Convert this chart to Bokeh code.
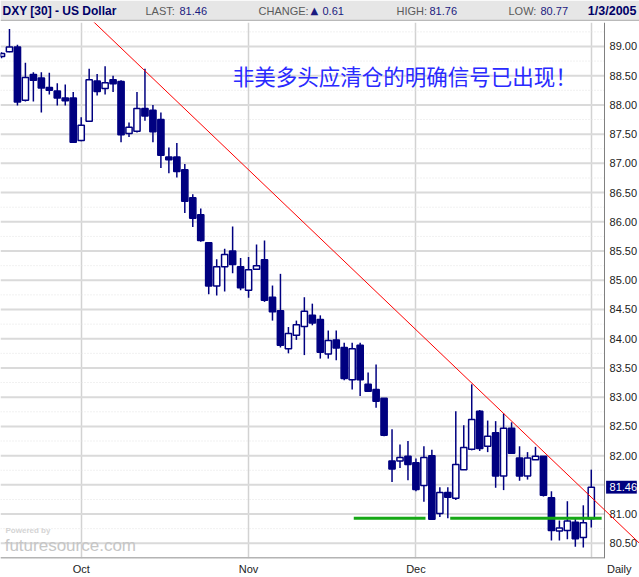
from bokeh.plotting import figure
from bokeh.models import FixedTicker, Label, ColumnDataSource, Range1d
from bokeh.layouts import column
from bokeh.core.properties import value
from bokeh.embed import file_html
from bokeh.resources import INLINE

# ---------------- data ----------------
opens = [88.83, 88.91, 88.99, 88.08, 88.52, 88.46, 88.30, 88.24, 88.12, 88.12,
         87.39, 87.72, 88.41, 88.28, 88.43, 88.40, 87.51, 87.55, 87.94, 87.91,
         87.75, 87.11, 87.11, 86.89, 86.41, 86.12, 85.64, 84.90, 85.23, 85.50,
         85.23, 84.83, 85.19, 85.35, 84.71, 84.48, 83.83, 84.06, 84.21, 84.40,
         84.33, 83.74, 83.98, 83.85, 83.30, 83.89, 83.22, 83.13, 82.98, 81.91,
         81.91, 81.99, 81.88, 81.49, 82.00, 81.01, 81.37, 81.27, 81.76, 82.11,
         82.76, 82.16, 82.39, 81.65, 82.47, 81.96, 81.65, 81.93, 81.99, 81.28,
         80.71, 80.72, 80.86, 80.60, 80.92]
highs = [88.90, 89.30, 89.03, 88.72, 88.56, 88.56, 88.55, 88.37, 88.35, 88.22,
         87.79, 88.62, 88.53, 88.66, 88.50, 88.42, 87.70, 88.22, 88.62, 88.00,
         87.87, 87.27, 87.35, 86.99, 86.47, 86.23, 85.65, 85.36, 85.54, 85.92,
         85.38, 85.40, 85.61, 85.68, 84.91, 85.11, 84.20, 84.31, 84.71, 84.60,
         84.40, 84.14, 84.14, 83.93, 83.93, 83.93, 83.42, 83.56, 82.98, 82.45,
         82.19, 82.25, 81.95, 82.16, 82.10, 81.46, 81.46, 82.76, 82.52, 83.22,
         82.78, 82.60, 82.59, 82.72, 82.57, 82.16, 82.06, 82.15, 81.99, 81.39,
         80.89, 81.22, 80.93, 81.15, 81.76]
lows = [88.80, 88.90, 87.99, 88.06, 88.06, 87.87, 88.18, 87.99, 87.99, 87.35,
        87.38, 87.71, 88.16, 88.18, 88.22, 87.36, 87.45, 87.53, 87.73, 87.36,
        86.92, 86.83, 86.76, 86.15, 85.91, 85.66, 84.76, 84.74, 84.81, 85.12,
        84.83, 84.70, 85.19, 84.63, 84.31, 83.85, 83.75, 83.98, 83.72, 84.23,
        83.66, 83.66, 83.63, 83.29, 83.13, 83.02, 83.09, 82.82, 82.33, 81.55,
        81.79, 81.58, 81.39, 81.21, 80.91, 80.95, 80.93, 81.24, 81.76, 82.09,
        82.08, 82.06, 81.45, 81.41, 82.04, 81.57, 81.59, 81.93, 81.30, 80.55,
        80.55, 80.57, 80.44, 80.43, 80.77]
closes = [88.88, 88.99, 88.05, 88.47, 88.42, 88.29, 88.25, 88.12, 88.07, 87.36,
          87.65, 88.43, 88.23, 88.38, 88.36, 87.49, 87.62, 87.94, 87.81, 87.54,
          87.14, 87.06, 86.86, 86.35, 86.06, 85.68, 84.90, 85.23, 85.44, 85.27,
          84.87, 85.18, 85.25, 84.66, 84.46, 83.89, 84.09, 84.24, 84.47, 84.27,
          83.77, 83.97, 83.84, 83.32, 83.83, 83.30, 83.10, 82.93, 82.35, 81.77,
          81.97, 81.85, 81.42, 81.97, 80.91, 81.37, 81.29, 81.85, 82.14, 82.62,
          82.12, 82.33, 81.65, 82.47, 82.04, 81.65, 81.96, 81.99, 81.32, 80.72,
          80.76, 80.88, 80.58, 80.85, 81.46]

month_idx = [10, 31, 52]
month_labels = ["Oct", "Nov", "Dec"]
jan_idx = 74
period_label = "Daily"
price_ticks = [80.5 + 0.5 * k for k in range(18)]
minor_ticks = [80.25 + 0.5 * k for k in range(19)]

trend_x = [11.42, 80.05]
trend_y = [89.44, 80.50]
support_level = 80.93
support_x0 = [44.2, 56.3]
support_x1 = [53.2, 75.3]

title_text = "DXY [30] - US Dollar"
date_text = "1/3/2005"
note_text = "非美多头应清仓的明确信号已出现！"

NAVY = "#000080"
W = 639

# x geometry (index units): frame covers the right price scale too
X0, X1 = -0.125, 80.05
AXIS_X = 75.66          # where the price scale line sits
Y0, Y1 = 80.24, 89.41

# ---------------- header ----------------
header = figure(width=W, height=21, x_range=Range1d(0, W), y_range=Range1d(0, 21),
                output_backend="svg", toolbar_location=None, min_border=0)
header.axis.visible = False
header.grid.visible = False
header.outline_line_color = None
header.background_fill_color = "white"
header.border_fill_color = "white"
header.quad(left=[0], right=[W], bottom=[1.5], top=[21], fill_color="#e6e6e6", line_color=None)
header.segment(x0=[0], y0=[1.2], x1=[W], y1=[1.2], line_color="#a8a8a8", line_width=1)

last = closes[-1]
change = closes[-1] - closes[-2]
hi = highs[-1]
lo = lows[-1]

header.text(x=[2], y=[11], text=[title_text], text_font=value("Liberation Sans"),
            text_font_style="bold", text_font_size="12px", text_color="#000066",
            text_baseline="middle", text_align="left")
header.text(x=[636], y=[11], text=[date_text], text_font=value("Liberation Sans"),
            text_font_style="bold", text_font_size="12.5px", text_color="#000066",
            text_baseline="middle", text_align="right")

lab_x = [145, 258, 396, 508]
lab_t = ["LAST:", "CHANGE:", "HIGH:", "LOW:"]
val_x = [179, 322, 429, 540]
val_t = ["%.2f" % last, "%.2f" % change, "%.2f" % hi, "%.2f" % lo]
header.text(x=lab_x, y=[11] * 4, text=lab_t, text_font=value("Liberation Sans"),
            text_font_size="11px", text_color="#5a5a5a", text_baseline="middle")
header.text(x=val_x, y=[11] * 4, text=val_t, text_font=value("Liberation Sans"),
            text_font_size="11px", text_color="#1a1a80", text_baseline="middle")
header.text(x=[310], y=[11], text=["▲"], text_font=value("DejaVu Sans"),
            text_font_size="10px", text_color="#1a1a80", text_baseline="middle")

# ---------------- main chart ----------------
p = figure(width=W, height=556, x_range=Range1d(X0, X1), y_range=Range1d(Y0, Y1),
           y_axis_location=None, output_backend="svg", toolbar_location=None,
           min_border_left=0, min_border_right=0, min_border_top=1, min_border_bottom=19)
p.outline_line_color = None
p.background_fill_color = "white"
p.border_fill_color = "white"
p.ygrid.visible = False

# horizontal grid (stops at the price scale)
p.segment(x0=[X0] * len(minor_ticks), y0=minor_ticks, x1=[AXIS_X] * len(minor_ticks), y1=minor_ticks,
          line_color="#e2e2e2", line_width=1, line_dash="1 2")
p.segment(x0=[X0] * len(price_ticks), y0=price_ticks, x1=[AXIS_X] * len(price_ticks), y1=price_ticks,
          line_color="#dadada", line_width=2)

# vertical grid
p.xgrid.ticker = FixedTicker(ticks=month_idx + [jan_idx])
p.xgrid.grid_line_color = "#d2d2d2"
p.xgrid.grid_line_width = 1.5

# bottom axis
xa = p.xaxis[0]
xa.ticker = FixedTicker(ticks=month_idx + [77.5])
ov = {i: t for i, t in zip(month_idx, month_labels)}
ov[77.5] = period_label
xa.major_label_overrides = ov
xa.axis_line_color = None
xa.major_tick_line_color = None
xa.minor_tick_line_color = None
xa.major_tick_out = 0
xa.major_label_standoff = 4
xa.major_label_text_font = "Liberation Sans"
xa.major_label_text_font_size = "11px"
xa.major_label_text_color = "#222222"

# bottom border line and price-scale line
p.segment(x0=[X0], y0=[Y0], x1=[AXIS_X], y1=[Y0], line_color="#b4b4b4", line_width=3)
p.segment(x0=[AXIS_X], y0=[Y0], x1=[AXIS_X], y1=[Y1], line_color="#808080", line_width=1)

# price scale labels
p.text(x=[AXIS_X] * len(price_ticks), y=price_ticks, text=["%.2f" % v for v in price_ticks],
       x_offset=5, text_font=value("Liberation Sans"), text_font_size="11px",
       text_color="#222222", text_baseline="middle", text_align="left")

# candles
idx = list(range(len(opens)))
up = [c >= o for o, c in zip(opens, closes)]
src = ColumnDataSource(dict(
    x=idx, o=opens, h=highs, l=lows, c=closes,
    top=[max(o, c) for o, c in zip(opens, closes)],
    bot=[min(o, c) for o, c in zip(opens, closes)],
    fill=["white" if u else NAVY for u in up],
))
p.segment(x0="x", y0="h", x1="x", y1="l", source=src, line_color=NAVY, line_width=1.5)
p.vbar(x="x", top="top", bottom="bot", width=0.78, source=src,
       fill_color="fill", line_color=NAVY, line_width=1.5)

# support line (green)
p.segment(x0=support_x0, y0=[support_level] * 2, x1=support_x1, y1=[support_level] * 2,
          line_color="#16a816", line_width=3)

# last price box on the price scale
box_h = 0.11
p.quad(left=[AXIS_X + 0.2], right=[AXIS_X + 4.05], bottom=[last - box_h], top=[last + box_h],
       fill_color=NAVY, line_color=None)
p.text(x=[AXIS_X], y=[last], text=["%.2f" % last], x_offset=5, text_font=value("Liberation Sans"),
       text_font_size="11px", text_color="white", text_baseline="middle", text_align="left")

# trend line (red)
p.segment(x0=[trend_x[0]], y0=[trend_y[0]], x1=[trend_x[1]], y1=[trend_y[1]],
          line_color="#ff0000", line_width=1)

# annotation text
p.add_layout(Label(x=29.0, y=88.50, text=note_text, text_font="Noto Sans CJK SC",
                   text_font_size="21.5px", text_color="#2a2aff", text_baseline="middle"))

# watermark
p.add_layout(Label(x=0.5, y=80.72, text="Powered by", text_font="Liberation Sans",
                   text_font_size="8px", text_font_style="bold", text_color="#d4d4d4",
                   text_baseline="middle"))
p.add_layout(Label(x=0.4, y=80.47, text="futuresource.com", text_font="Liberation Sans",
                   text_font_size="17px", text_color="#c6c6c6", text_baseline="middle"))

layout = column(header, p, spacing=0)
open("out.html", "w").write(file_html(layout, INLINE))
